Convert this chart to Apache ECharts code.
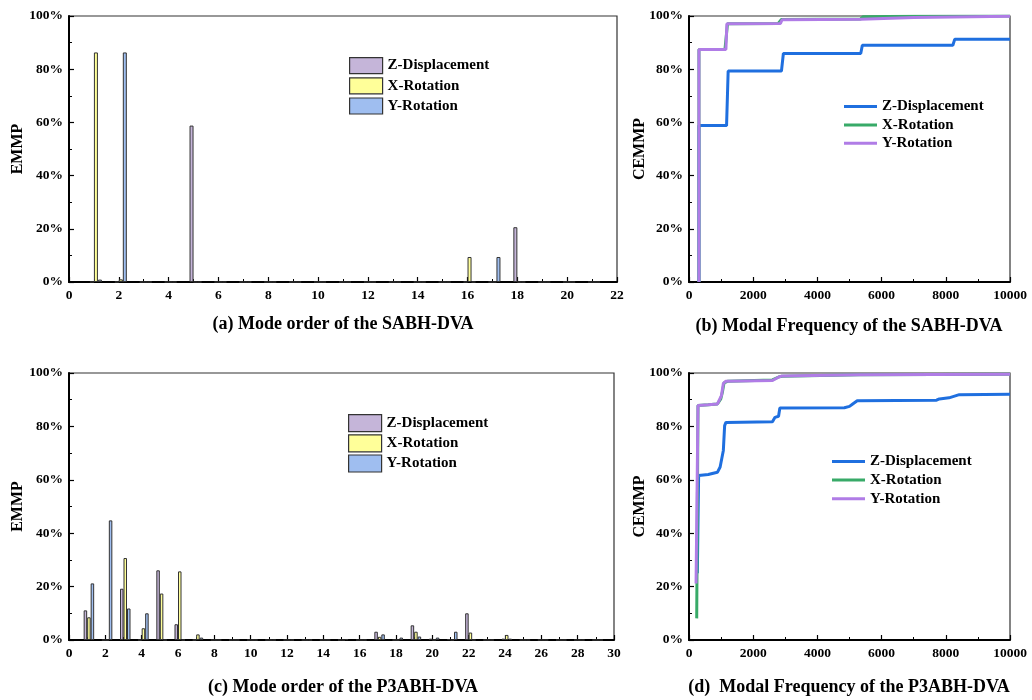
<!DOCTYPE html>
<html><head><meta charset="utf-8">
<script src="https://cdn.jsdelivr.net/npm/echarts@6/dist/echarts.min.js"></script>
<style>html,body{margin:0;padding:0;background:#fff}#c{width:1032px;height:700px}</style>
</head><body><div id="c"></div>
<script>
// ---------- DATA ----------
const seriesNames = ['Z-Displacement', 'X-Rotation', 'Y-Rotation'];
const panelTitles = ['(a) Mode order of the SABH-DVA', '(b) Modal Frequency of the SABH-DVA',
                     '(c) Mode order of the P3ABH-DVA', '(d)  Modal Frequency of the P3ABH-DVA'];

// (a) EMMP (%) by mode order, SABH-DVA
const modesA = [1,2,3,4,5,6,7,8,9,10,11,12,13,14,15,16,17,18,19,20,21];
const zDispA = [0,0,0,0,58.8,0,0,0,0,0,0,0,0,0,0,0,0,20.6,0,0,0];
const xRotA  = [86.3,1.0,0,0,0,0,0,0,0,0,0,0,0,0,0,9.4,0,0,0,0,0];
const yRotA  = [0.9,86.3,0,0,0,0,0,0,0,0,0,0,0,0,0,0,9.4,0,0,0,0];

// (c) EMMP (%) by mode order, P3ABH-DVA
const modesC = [1,2,3,4,5,6,7,8,9,10,11,12,13,14,15,16,17,18,19,20,21,22,23,24,25,26,27,28,29];
const zDispC = [11.1,0,19.2,0,26.1,5.9,0,0,0,0,0,0,0,0,0,0,3.1,0,5.5,0.5,0.3,10.0,0,0.5,0,0,0,0,0];
const xRotC  = [8.5,0,30.7,4.4,17.4,25.7,2.1,0,0,0,0,0,0,0,0,0,1.2,0,3.1,0,0,2.8,0,1.9,0,0,0,0,0];
const yRotC  = [21.2,44.8,11.8,10.0,0,0,0.9,0,0,0,0,0,0,0,0.3,0,2.1,0.9,1.3,0.9,3.1,0,0,0.5,0,0,0,0,0];

// (b) CEMMP (%) vs modal frequency (Hz), SABH-DVA  [frequency, value]
const zDispB = [[310,0],[310,58.8],[1170,58.8],[1220,79.3],[2880,79.3],[2940,85.9],[5350,85.9],[5400,89.0],[8220,89.0],[8280,91.3],[10000,91.3]];
const xRotB  = [[310,0],[310,87.4],[1120,87.4],[1200,97.1],[2780,97.2],[2880,98.7],[5350,98.9],[5420,99.7],[7000,99.9],[10000,100]];
const yRotB  = [[310,0],[310,87.4],[1150,87.4],[1180,97.1],[2850,97.2],[2900,98.6],[5350,98.8],[5400,99.3],[7000,99.4],[7050,99.6],[10000,99.9]];

// (d) CEMMP (%) vs modal frequency (Hz), P3ABH-DVA
const zDispD = [[260,25],[300,61.6],[600,62.0],[885,62.8],[970,64.8],[1070,71.0],[1100,71.6],[1110,80.3],[1150,81.5],[2600,81.7],[2680,83.4],[2790,83.8],[2830,86.9],[4840,87.0],[5000,87.5],[5100,88.4],[5240,89.6],[7710,89.8],[7800,90.3],[8100,90.7],[8130,91.3],[8420,91.9],[10000,92.0]];
const xRotD  = [[240,8.1],[280,87.8],[600,88.1],[885,88.4],[990,90.3],[1040,92.8],[1090,96.3],[1200,96.9],[2600,97.4],[2810,98.6],[2900,98.8],[5300,99.3],[10000,99.5]];
const yRotD  = [[220,21.2],[280,87.8],[600,88.1],[885,88.4],[915,89.0],[1010,91.5],[1070,96.1],[1150,96.9],[2600,97.2],[2800,98.5],[2900,98.9],[5300,99.3],[10000,99.5]];

// ---------- STYLE ----------
const FONT = 'Liberation Serif';
const barColors = ['#c5b5d9', '#ffff99', '#9fbef0'];
const lineColors = ['#1f6fdf', '#38aa68', '#b07ce6'];
const LP = 'L:'; // prefix for line-series names (kept out of the displayed text)

const grids = [
  {left: 69, top: 16, width: 548, height: 266},
  {left: 689, top: 16, width: 321, height: 266},
  {left: 69, top: 373, width: 545, height: 267},
  {left: 689, top: 373, width: 321, height: 267}
].map(g => Object.assign(g, {show: true, borderColor: '#333', borderWidth: 1.2, backgroundColor: 'transparent',
  containLabel: false, outerBoundsMode: 'none'}));

const labelStyle = {color: '#000', fontFamily: FONT, fontWeight: 'bold', fontSize: 13.5};

function xAxis(gi, max, interval) {
  return {
    gridIndex: gi, type: 'value', min: 0, max: max, interval: interval,
    axisLine: {show: true, onZero: false, lineStyle: {color: '#000', width: 2}},
    axisTick: {show: true, inside: true, length: 5, lineStyle: {color: '#000', width: 1.2}},
    minorTick: {show: true, splitNumber: 2, length: 3, lineStyle: {color: '#000', width: 1}},
    axisLabel: Object.assign({margin: 7, formatter: v => String(v), hideOverlap: false}, labelStyle),
    splitLine: {show: false}, minorSplitLine: {show: false}
  };
}
function yAxis(gi, name, gap) {
  return {
    gridIndex: gi, type: 'value', min: 0, max: 100, interval: 20,
    name: name, nameLocation: 'middle', nameGap: gap, nameMoveOverlap: false,
    nameTextStyle: {color: '#000', fontFamily: FONT, fontWeight: 'bold', fontSize: 16},
    axisLine: {show: true, onZero: false, lineStyle: {color: '#000', width: 2}},
    axisTick: {show: true, inside: true, length: 5, lineStyle: {color: '#000', width: 1.2}},
    minorTick: {show: true, splitNumber: 2, length: 3, lineStyle: {color: '#000', width: 1}},
    axisLabel: Object.assign({margin: 6, formatter: '{value}%'}, labelStyle),
    splitLine: {show: false}, minorSplitLine: {show: false}
  };
}

function barSeries(gi, modes, vals, k, bw) {
  return {
    type: 'bar', name: seriesNames[k], xAxisIndex: gi, yAxisIndex: gi,
    data: modes.map((m, i) => [m, vals[i]]),
    barWidth: bw, barGap: '0%',
    itemStyle: {color: barColors[k], borderColor: '#333', borderWidth: 1},
    emphasis: {disabled: true}, animation: false
  };
}
// empty slot in each bar group so the three visible bars sit slightly right of the mode, as in the original
function slotSeries(gi, bw) {
  return {type: 'bar', name: '_slot' + gi, xAxisIndex: gi, yAxisIndex: gi, data: [],
    barWidth: bw, barGap: '0%', silent: true, animation: false};
}
function lineSeries(gi, pts, k) {
  return {
    type: 'line', name: LP + seriesNames[k], xAxisIndex: gi, yAxisIndex: gi,
    data: pts, symbol: 'none', showSymbol: false,
    lineStyle: {color: lineColors[k], width: 3}, itemStyle: {color: lineColors[k]},
    emphasis: {disabled: true}, animation: false
  };
}

function barLegend(left, top, h, gap) {
  return {
    orient: 'vertical', left: left, top: top, itemWidth: 33, itemHeight: h, itemGap: gap,
    icon: 'rect', data: seriesNames, selectedMode: false, padding: 0,
    itemStyle: {borderColor: '#333', borderWidth: 1.2},
    textStyle: {color: '#000', fontFamily: FONT, fontWeight: 'bold', fontSize: 15}
  };
}
function lineLegend(left, top, gap) {
  return {
    orient: 'vertical', left: left, top: top, itemWidth: 33, itemHeight: 3, itemGap: gap,
    icon: 'rect', selectedMode: false, padding: 0,
    data: seriesNames.map((n, k) => ({name: LP + n, itemStyle: {color: lineColors[k], borderWidth: 0}})),
    formatter: n => n.slice(LP.length),
    textStyle: {color: '#000', fontFamily: FONT, fontWeight: 'bold', fontSize: 15, lineHeight: 15}
  };
}

function title(text, cx, top) {
  return {text: text, left: cx, top: top, textAlign: 'center', padding: 0,
    textStyle: {color: '#000', fontFamily: FONT, fontWeight: 'bold', fontSize: 18}};
}

const option = {
  backgroundColor: '#fff',
  animation: false,
  grid: grids,
  xAxis: [xAxis(0, 22, 2), xAxis(1, 10000, 2000), xAxis(2, 30, 2), xAxis(3, 10000, 2000)],
  yAxis: [yAxis(0, 'EMMP', 43), yAxis(1, 'CEMMP', 41), yAxis(2, 'EMMP', 43), yAxis(3, 'CEMMP', 41)],
  legend: [
    barLegend(349, 57, 16, 3),
    lineLegend(844, 99, 3.4),
    barLegend(348, 414, 17, 2),
    lineLegend(832, 454, 3.6)
  ],
  title: [
    title(panelTitles[0], 343, 315),
    title(panelTitles[1], 849, 317),
    title(panelTitles[2], 343, 678),
    title(panelTitles[3], 849, 678)
  ],
  series: [
    slotSeries(0, 4),
    barSeries(0, modesA, zDispA, 0, 4), barSeries(0, modesA, xRotA, 1, 4), barSeries(0, modesA, yRotA, 2, 4),
    slotSeries(2, 3.5),
    barSeries(2, modesC, zDispC, 0, 3.5), barSeries(2, modesC, xRotC, 1, 3.5), barSeries(2, modesC, yRotC, 2, 3.5),
    lineSeries(1, zDispB, 0), lineSeries(1, xRotB, 1), lineSeries(1, yRotB, 2),
    lineSeries(3, zDispD, 0), lineSeries(3, xRotD, 1), lineSeries(3, yRotD, 2)
  ]
};

const chart = echarts.init(document.getElementById('c'), null, {renderer: 'canvas'});
chart.setOption(option);
</script>
</body></html>
